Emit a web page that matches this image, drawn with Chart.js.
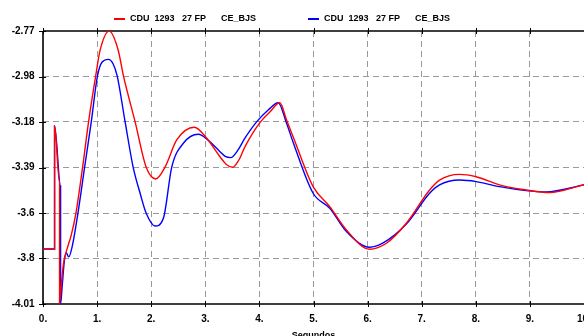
<!DOCTYPE html>
<html><head><meta charset="utf-8">
<script src="https://cdn.jsdelivr.net/npm/chart.js@4.4.0/dist/chart.umd.min.js"></script>
<style>html,body{margin:0;padding:0;background:#fff;overflow:hidden}</style>
</head><body>
<canvas id="c" width="584" height="336"></canvas>
<script>
const seriesLabels = ['CDU  1293   27 FP      CE_BJS', 'CDU  1293   27 FP      CE_BJS'];
const seriesColors = ['#ff0000', '#0000ff'];

const redTime = [0, 0.214, 0.214, 0.306, 0.306, 0.338, 0.375, 0.399, 0.467, 0.522, 0.609, 0.731, 0.841, 0.974, 1.057, 1.223,
  1.389, 1.487, 1.703, 1.906, 2.085, 2.256, 2.472, 2.797, 3.026, 3.271, 3.39, 3.506, 3.62, 3.732, 4.009, 4.193, 4.378,
  4.502, 4.623, 4.993, 5.301, 5.609, 6.037, 6.347, 6.716, 7.146, 7.330, 7.699, 8.007, 8.437, 8.930, 9.358, 10];
const redValue = [-3.760, -3.760, -3.201, -3.460, -4.010, -3.924, -3.833, -3.800, -3.742, -3.697, -3.597, -3.391, -3.185, -2.974, -2.856, -2.770,
  -2.856, -2.974, -3.183, -3.388, -3.442, -3.388, -3.265, -3.207, -3.257, -3.341, -3.376, -3.389, -3.356, -3.296, -3.186, -3.138, -3.096,
  -3.174, -3.250, -3.477, -3.568, -3.674, -3.761, -3.734, -3.643, -3.492, -3.447, -3.421, -3.432, -3.469, -3.492, -3.504, -3.468];

const blueTime = [0, 0.214, 0.214, 0.325, 0.325, 0.356, 0.393, 0.430, 0.476, 0.541, 0.646, 0.768, 0.891, 1.007, 1.094, 1.210,
  1.297, 1.371, 1.518, 1.666, 1.795, 1.906, 2.072, 2.225, 2.380, 2.594, 2.871, 3.050, 3.271, 3.36, 3.469, 3.60, 3.732, 3.948, 4.162, 4.347,
  4.502, 4.623, 4.993, 5.301, 5.609, 6.037, 6.279, 6.716, 7.146, 7.330, 7.699, 8.007, 8.437, 8.930, 9.299, 10];
const blueValue = [-3.760, -3.760, -3.201, -3.474, -4.010, -3.924, -3.819, -3.778, -3.796, -3.747, -3.597, -3.391, -3.185, -2.974, -2.911, -2.899,
  -2.920, -2.974, -3.183, -3.388, -3.507, -3.597, -3.656, -3.621, -3.388, -3.280, -3.239, -3.265, -3.318, -3.338, -3.345, -3.312, -3.257, -3.183, -3.129, -3.096,
  -3.189, -3.275, -3.507, -3.575, -3.681, -3.752, -3.734, -3.647, -3.507, -3.469, -3.447, -3.454, -3.477, -3.495, -3.501, -3.469];

const xTickValues = [0, 1, 2, 3, 4, 5, 6, 7, 8, 9, 10];
const xTickLabels = ['0.', '1.', '2.', '3.', '4.', '5.', '6.', '7.', '8.', '9.', '10.'];
const yTickValues = [-4.01, -3.8033, -3.5967, -3.39, -3.1833, -2.9767, -2.77];
const yTickLabels = ['-4.01', '-3.8', '-3.6', '-3.39', '-3.18', '-2.98', '-2.77'];
const xTitle = 'Segundos';

const FONT = "'Liberation Sans', Arial, sans-serif";

function pts(t, v) { return t.map((x, i) => ({x: x, y: v[i]})); }
function nearestIdx(arr, val) {
  let b = 0; for (let i = 1; i < arr.length; i++) if (Math.abs(arr[i] - val) < Math.abs(arr[b] - val)) b = i; return b;
}

const framePlugin = {
  id: 'frame',
  beforeDatasetsDraw(chart) {
    const {ctx, chartArea: a, scales: {x, y}} = chart;
    ctx.save();
    ctx.strokeStyle = '#000';
    ctx.lineWidth = 1.6;
    ctx.beginPath();
    ctx.moveTo(a.left, a.top); ctx.lineTo(a.right + 2, a.top);
    ctx.moveTo(a.left, a.top); ctx.lineTo(a.left, a.bottom);
    ctx.moveTo(a.left, a.bottom); ctx.lineTo(a.right + 2, a.bottom);
    ctx.stroke();
    ctx.lineWidth = 1;
    ctx.beginPath();
    xTickValues.forEach(v => {
      const px = Math.round(x.getPixelForValue(v)) + 0.5;
      ctx.moveTo(px, a.top - 3); ctx.lineTo(px, a.top + 3);
      ctx.moveTo(px, a.bottom - 3); ctx.lineTo(px, a.bottom + 3);
    });
    yTickValues.forEach(v => {
      const py = Math.round(y.getPixelForValue(v)) + 0.5;
      ctx.moveTo(a.left - 4, py); ctx.lineTo(a.left + 3, py);
    });
    ctx.stroke();
    ctx.restore();
  },
  afterDraw(chart) {
    const ctx = chart.ctx;
    const starts = [114, 308];
    ctx.save();
    ctx.font = 'bold 9px ' + FONT;
    ctx.textBaseline = 'middle';
    ctx.fillStyle = '#000';
    chart.data.datasets.forEach((ds, i) => {
      const sx = starts[i];
      ctx.strokeStyle = ds.borderColor;
      ctx.lineWidth = 2;
      ctx.beginPath(); ctx.moveTo(sx, 19); ctx.lineTo(sx + 11, 19); ctx.stroke();
      ctx.fillText(ds.label, sx + 16, 19);
    });
    ctx.restore();
  }
};

new Chart(document.getElementById('c'), {
  type: 'line',
  data: {
    datasets: [
      {label: seriesLabels[0], data: pts(redTime, redValue), borderColor: seriesColors[0], borderWidth: 1.4, pointRadius: 0, cubicInterpolationMode: 'monotone', fill: false},
      {label: seriesLabels[1], data: pts(blueTime, blueValue), borderColor: seriesColors[1], borderWidth: 1.4, pointRadius: 0, cubicInterpolationMode: 'monotone', fill: false}
    ]
  },
  options: {
    responsive: false, animation: false, devicePixelRatio: 1,
    layout: {padding: {top: 31, left: 0, right: 0, bottom: 0}},
    plugins: {legend: {display: false}, tooltip: {enabled: false}},
    scales: {
      x: {
        type: 'linear', min: 0, max: 10,
        afterBuildTicks(s) { s.ticks = xTickValues.map(v => ({value: v})); },
        afterFit(s) { s.height = 32; s.paddingLeft = 0; s.paddingRight = 0; },
        ticks: {
          callback: (v) => xTickLabels[nearestIdx(xTickValues, v)],
          font: {family: FONT, size: 10, weight: 'bold'}, color: '#000', padding: 9, maxRotation: 0, autoSkip: false
        },
        grid: {
          drawTicks: false, lineWidth: 1,
          color: (c) => (c.tick && c.tick.value > 0 && c.tick.value < 10) ? '#9a9a9a' : 'rgba(0,0,0,0)'
        },
        border: {display: false, dash: [6, 4]},
        title: {display: true, text: xTitle, font: {family: FONT, size: 9, weight: 'bold'}, color: '#000', padding: {top: 0, bottom: -5}}
      },
      y: {
        type: 'linear', min: -4.01, max: -2.77,
        afterBuildTicks(s) { s.ticks = yTickValues.map(v => ({value: v})); },
        afterFit(s) { s.width = 43; s.paddingTop = 0; s.paddingBottom = 0; },
        ticks: {
          callback: (v) => yTickLabels[nearestIdx(yTickValues, v)],
          font: {family: FONT, size: 10, weight: 'bold'}, color: '#000', padding: 8.5, autoSkip: false
        },
        grid: {
          drawTicks: false, lineWidth: 1,
          color: (c) => (c.tick && c.tick.value > -4.0 && c.tick.value < -2.78) ? '#9a9a9a' : 'rgba(0,0,0,0)'
        },
        border: {display: false, dash: [6, 4]}
      }
    }
  },
  plugins: [framePlugin]
});
</script>
</body></html>
